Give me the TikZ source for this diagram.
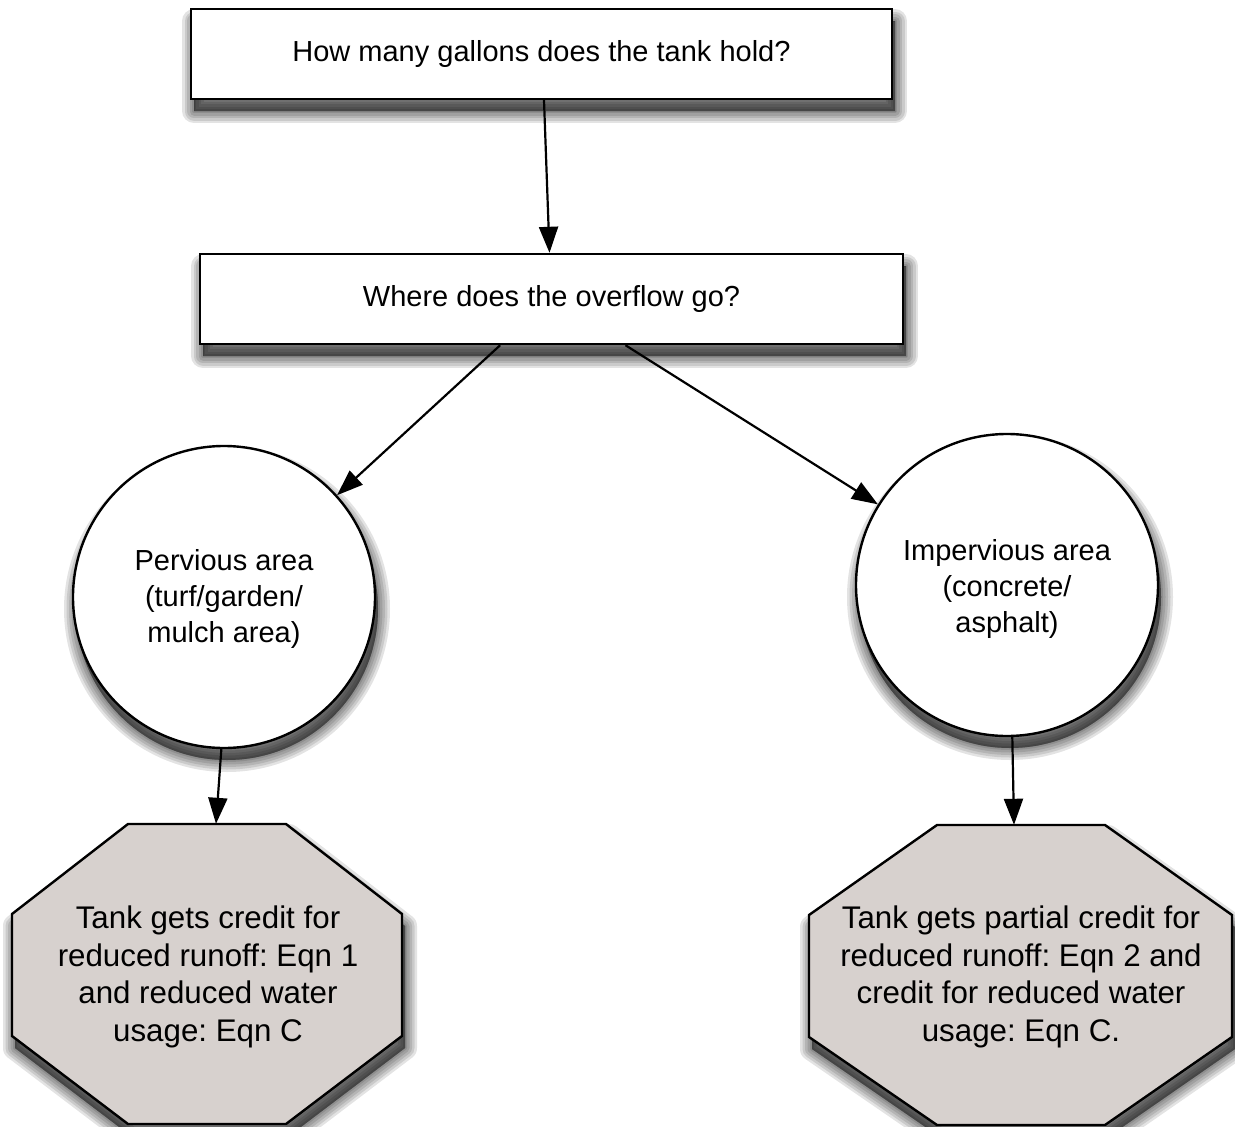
\documentclass[tikz,border=0pt]{standalone}
\usepackage{fontspec}
\setmainfont{Liberation Sans}
\frenchspacing
\usetikzlibrary{arrows.meta,calc}
\definecolor{octgray}{RGB}{215,209,206}
\tikzset{
  % soft drop shadow built from stacked translucent outlines
  shadowlayer/.style={preaction={draw=black, fill=black, opacity=0.11,
      line width=#1, line join=round,
      transform canvas={shift={(3pt,-12pt)}}}},
  dropshadow/.style={shadowlayer=24pt, shadowlayer=19pt, shadowlayer=14pt,
      shadowlayer=9pt, shadowlayer=4pt, shadowlayer=0.5pt},
  qbox/.style={rectangle, draw, line width=2.4pt, fill=white, dropshadow,
      minimum width=701pt, minimum height=90pt, inner sep=0pt,
      font=\fontsize{29}{35}\selectfont},
  areacirc/.style={circle, draw, line width=2.4pt, fill=white, dropshadow,
      minimum size=302pt, inner sep=0pt},
  circtext/.style={align=center, font=\fontsize{29}{36}\selectfont},
  octshape/.style={draw, line width=2.4pt, fill=octgray, dropshadow, line join=miter},
  octframe/.style={rectangle, inner sep=0pt, minimum height=300pt},
  octtext/.style={align=center, font=\fontsize{31.3}{37.5}\selectfont},
  arr/.style={line width=2.2pt, -{Triangle[length=26pt,width=19pt,fill=black]}},
}
\begin{document}
\begin{tikzpicture}[x=1pt,y=-1pt]
\useasboundingbox (0,0) rectangle (1235,1127);

% question boxes
\node[qbox] (b1) at (541.5,54) {How many gallons does the tank hold?};
\node[qbox, minimum width=703pt] (b2) at (551.5,299) {Where does the overflow go?};

% overflow destinations
\node[areacirc] (pc) at (224,597) {};
\node[circtext] (pct) at (224,599) {Pervious area\\(turf/garden/\\mulch area)};
\node[areacirc] (ic) at (1007,585) {};
\node[circtext] (ict) at (1007,589) {Impervious area\\(concrete/\\asphalt)};

% outcome octagons
\path[octshape] (128,824) -- (286,824) -- (402,914) -- (402,1036)
  -- (286,1124) -- (128,1124) -- (12,1036) -- (12,914) -- cycle;
\node[octframe, minimum width=390pt] (lo) at (207,974) {};
\node[octtext] (lot) at (208,977)
  {Tank gets credit for\\reduced runoff: Eqn 1\\and reduced water\\usage: Eqn C};

\path[octshape] (937,825) -- (1105,825) -- (1232,915) -- (1232,1037)
  -- (1105,1125) -- (937,1125) -- (809,1037) -- (809,915) -- cycle;
\node[octframe, minimum width=423pt] (ro) at (1020.5,975) {};
\node[octtext] (rot) at (1021,977)
  {Tank gets partial credit for\\reduced runoff: Eqn 2 and\\credit for reduced water\\usage: Eqn C.};

% connectors
\draw[arr] ($(b1.south)+(2.5,0)$) -- ($(b2.north)+(-2,0)$);
\draw[arr] (b2.-138) -- (pc.42);
\draw[arr] (b2.-32) -- (ic.148);
\draw[arr] (pc.-91.5) -- ($(lo.north)+(9,0)$);
\draw[arr] (ic.-88) -- ($(ro.north)+(-6.5,0)$);
\end{tikzpicture}
\end{document}
